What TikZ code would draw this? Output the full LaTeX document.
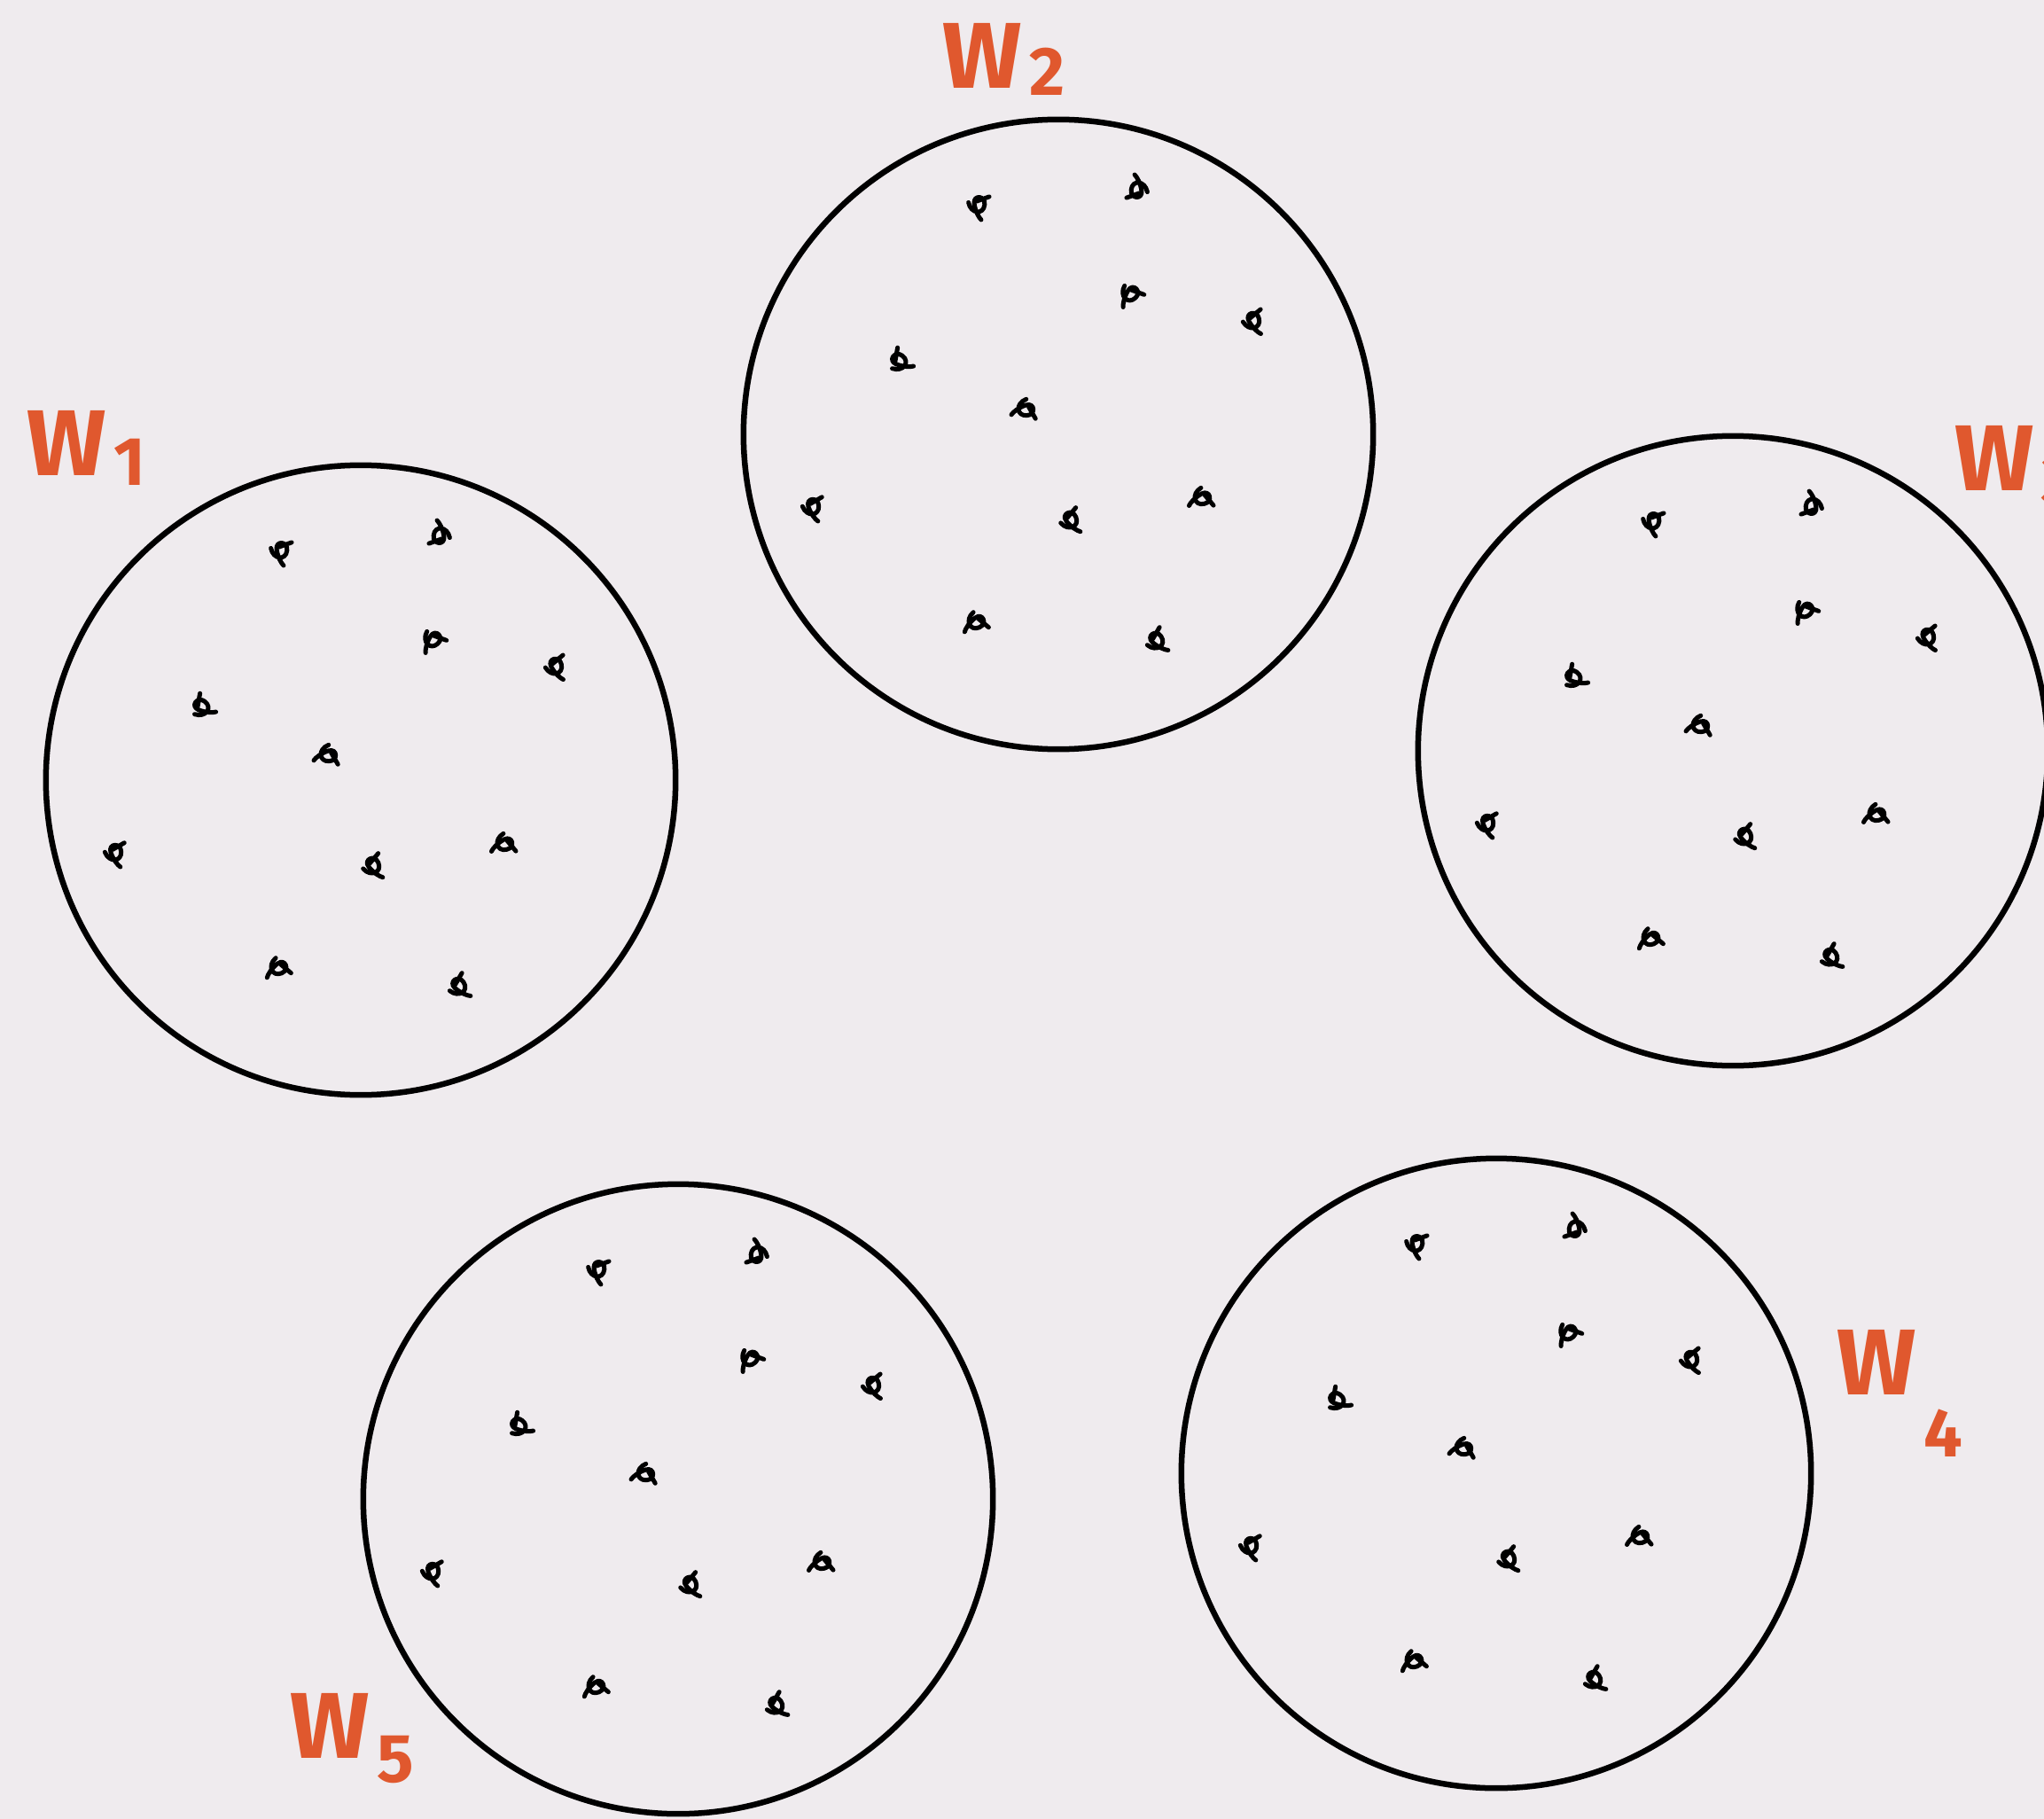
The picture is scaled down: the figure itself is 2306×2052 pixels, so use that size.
\documentclass[tikz,border=0pt]{standalone}
\usepackage{fontspec}
\usepackage{xcolor}
\usepackage{tikz}
\usetikzlibrary{calc}
\newfontfamily\handfont{Fira Sans}
\definecolor{paper}{RGB}{239,235,238}
\definecolor{wred}{RGB}{224,88,46}
\newcommand{\wsub}[2][0.1cm]{W\kern0.08em\raisebox{-#1}{\fontsize{22}{22}\selectfont #2}}

\begin{document}
\begin{tikzpicture}[
    x=0.01cm, y=-0.01cm,
    world/.style={circle, draw, line width=0.065cm, minimum size=7.1cm, inner sep=0pt},
    wlab/.style={text=wred, font=\handfont\bfseries\fontsize{30}{30}\selectfont, anchor=base west, inner sep=0pt},
    scrib/.pic={
        \draw[line width=0.05cm, line cap=round, line join=round, scale=1.3]
            (-8,-2) .. controls (-6,8) and (5,9) .. (6,0)
            .. controls (7,-8) and (-4,-9) .. (-3,-1)
            .. controls (-2,6) and (1,11) .. (3,13)
            (-1,-3) -- (10,-7);
    }
]

% Canvas
\fill[paper] (0,0) rectangle (2306,2052);
\useasboundingbox (0,0) rectangle (2306,2052);

% Worlds
\node[world] (w1) at (407,880) {};
\node[world] (w2) at (1194,490) {};
\node[world] (w3) at (1955,847) {};
\node[world] (w4) at (1688,1662) {};
\node[world] (w5) at (765,1691) {};

% Points, same pattern in every world
\foreach \w in {w1,w2,w3,w4,w5}
    \foreach \dx/\dy/\r in {-91/-259/0, 90/-276/180, 81/-159/-40, 219/-128/20,
                            -180/-82/60, -37/-29/-80, -278/82/10, 13/97/30,
                            162/71/-70, -93/211/-60, 110/233/40}
        \pic[rotate=\r] at ($(\w)+(\dx,\dy)$) {scrib};

% Labels
\node[wlab] (lab1) at (30,537) {\wsub[0.1cm]{1}};
\node[wlab] (lab2) at (1063,100) {\wsub[0.08cm]{2}};
\node[wlab] (lab3) at (2205,553) {\wsub[0.15cm]{3}};
\node[wlab] (lab4) at (2072,1573) {\wsub[0.7cm]{4}};
\node[wlab] (lab5) at (327,1983) {\wsub[0.27cm]{5}};

\end{tikzpicture}
\end{document}
